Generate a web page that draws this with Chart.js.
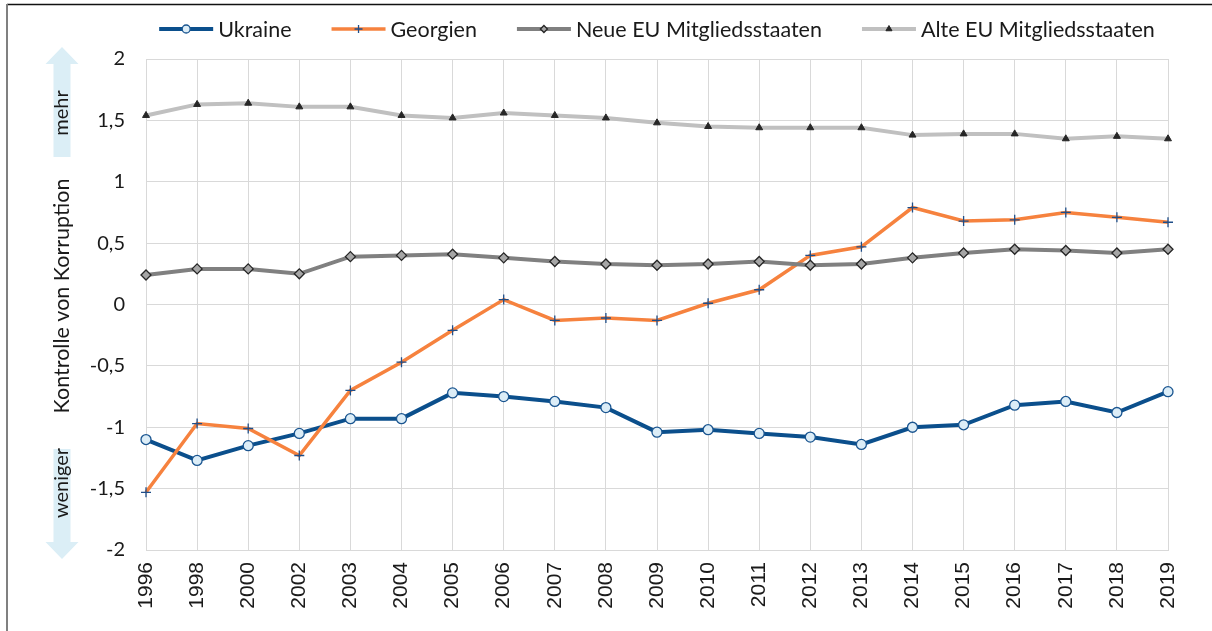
<!DOCTYPE html>
<html>
<head>
<meta charset="utf-8">
<script src="https://cdn.jsdelivr.net/npm/chart.js@4.4.0/dist/chart.umd.min.js"></script>
<style>
  html, body { margin: 0; padding: 0; background: #fff; }
</style>
</head>
<body>
<canvas id="myChart" width="1212" height="631"></canvas>
<script>
// Kontrolle von Korruption, Indexwerte
const years = ['1996', '1998', '2000', '2002', '2003', '2004', '2005', '2006', '2007', '2008', '2009',
  '2010', '2011', '2012', '2013', '2014', '2015', '2016', '2017', '2018', '2019'];
const ukraine = [-1.10, -1.27, -1.15, -1.05, -0.93, -0.93, -0.72, -0.75, -0.79, -0.84, -1.04,
  -1.02, -1.05, -1.08, -1.14, -1.00, -0.98, -0.82, -0.79, -0.88, -0.71];
const georgien = [-1.53, -0.97, -1.01, -1.23, -0.70, -0.47, -0.21, 0.04, -0.13, -0.11, -0.13,
  0.01, 0.12, 0.40, 0.47, 0.79, 0.68, 0.69, 0.75, 0.71, 0.67];
const neueEU = [0.24, 0.29, 0.29, 0.25, 0.39, 0.40, 0.41, 0.38, 0.35, 0.33, 0.32,
  0.33, 0.35, 0.32, 0.33, 0.38, 0.42, 0.45, 0.44, 0.42, 0.45];
const alteEU = [1.54, 1.63, 1.64, 1.61, 1.61, 1.54, 1.52, 1.56, 1.54, 1.52, 1.48,
  1.45, 1.44, 1.44, 1.44, 1.38, 1.39, 1.39, 1.35, 1.37, 1.35];
const yTicks = [2, 1.5, 1, 0.5, 0, -0.5, -1, -1.5, -2];

const textColor = '#1a1a1a';
const gridColor = '#d9d9d9';

// arrows, axis title and frame
const decorPlugin = {
  id: 'decor',
  beforeDraw(chart) {
    const ctx = chart.ctx;
    ctx.save();
    // frame
    ctx.strokeStyle = '#111';
    ctx.lineWidth = 1.5;
    ctx.beginPath();
    ctx.moveTo(7, 4.5);
    ctx.lineTo(1212, 4.5);
    ctx.stroke();
    ctx.strokeStyle = '#808080';
    ctx.lineWidth = 2;
    ctx.beginPath();
    ctx.moveTo(7, 4);
    ctx.lineTo(7, 631);
    ctx.stroke();

    // arrows
    ctx.fillStyle = '#dbeef6';
    ctx.beginPath();
    ctx.moveTo(62, 47);
    ctx.lineTo(78.5, 64);
    ctx.lineTo(70.5, 64);
    ctx.lineTo(70.5, 157);
    ctx.lineTo(53.5, 157);
    ctx.lineTo(53.5, 64);
    ctx.lineTo(45.5, 64);
    ctx.closePath();
    ctx.fill();
    ctx.beginPath();
    ctx.moveTo(62, 559);
    ctx.lineTo(78.5, 542);
    ctx.lineTo(70.5, 542);
    ctx.lineTo(70.5, 449);
    ctx.lineTo(53.5, 449);
    ctx.lineTo(53.5, 542);
    ctx.lineTo(45.5, 542);
    ctx.closePath();
    ctx.fill();

    ctx.fillStyle = textColor;
    ctx.textAlign = 'center';
    ctx.textBaseline = 'middle';
    const vtext = (t, x, y) => {
      ctx.save();
      ctx.translate(x, y);
      ctx.rotate(-Math.PI / 2);
      ctx.fillText(t, 0, 0);
      ctx.restore();
    };
    ctx.font = '20px Lato';
    vtext('mehr', 62, 113);
    vtext('weniger', 62, 483);
    ctx.font = '21.5px Lato';
    vtext('Kontrolle von Korruption', 62, 296);
    ctx.restore();
  }
};

// legend drawn as line + marker, like the original
const legendPlugin = {
  id: 'lineLegend',
  afterDraw(chart) {
    const ctx = chart.ctx;
    const area = chart.chartArea;
    const lineLen = 54, textGap = 5, itemGap = 40;
    ctx.save();
    ctx.font = '21.5px Lato';
    ctx.textBaseline = 'middle';
    const items = chart.data.datasets.map(ds => ({ ds, w: ctx.measureText(ds.label).width }));
    let total = 0;
    items.forEach((it, i) => { total += lineLen + textGap + it.w + (i ? itemGap : 0); });
    let x = (area.left + area.right) / 2 - total / 2;
    const y = 29;
    items.forEach(it => {
      const ds = it.ds;
      ctx.strokeStyle = ds.borderColor;
      ctx.lineWidth = ds.borderWidth;
      ctx.beginPath();
      ctx.moveTo(x, y);
      ctx.lineTo(x + lineLen, y);
      ctx.stroke();
      ctx.fillStyle = ds.pointBackgroundColor;
      ctx.strokeStyle = ds.pointBorderColor;
      ctx.lineWidth = ds.pointBorderWidth;
      Chart.helpers.drawPoint(ctx, {
        pointStyle: ds.pointStyle,
        radius: ds.legendRadius,
        rotation: 0,
        borderWidth: ds.pointBorderWidth
      }, x + lineLen / 2, y);
      ctx.fillStyle = textColor;
      ctx.textAlign = 'left';
      ctx.fillText(ds.label, x + lineLen + textGap, y + 1);
      x += lineLen + textGap + it.w + itemGap;
    });
    ctx.restore();
  }
};

const ctx = document.getElementById('myChart').getContext('2d');
const chart = new Chart(ctx, {
  type: 'line',
  data: {
    labels: years,
    datasets: [{
      label: 'Ukraine',
      data: ukraine,
      borderColor: '#0b4f8c',
      borderWidth: 4,
      pointStyle: 'circle',
      pointRadius: 5,
      legendRadius: 4,
      pointBackgroundColor: '#dcedf7',
      pointBorderColor: '#1a5590',
      pointBorderWidth: 1.3,
      order: 3
    }, {
      label: 'Georgien',
      data: georgien,
      borderColor: '#f6823e',
      borderWidth: 3.5,
      pointStyle: 'cross',
      pointRadius: 5,
      legendRadius: 4,
      pointBackgroundColor: '#1f4e89',
      pointBorderColor: '#1f4e89',
      pointBorderWidth: 1.3,
      order: 2
    }, {
      label: 'Neue EU Mitgliedsstaaten',
      data: neueEU,
      borderColor: '#808080',
      borderWidth: 4,
      pointStyle: 'rectRot',
      pointRadius: 5,
      legendRadius: 3.5,
      pointBackgroundColor: '#a6a6a6',
      pointBorderColor: '#262626',
      pointBorderWidth: 1.3,
      order: 1
    }, {
      label: 'Alte EU Mitgliedsstaaten',
      data: alteEU,
      borderColor: '#c0c0c0',
      borderWidth: 4,
      pointStyle: 'triangle',
      pointRadius: 4,
      legendRadius: 3.5,
      pointBackgroundColor: '#262626',
      pointBorderColor: '#262626',
      pointBorderWidth: 1,
      order: 0
    }]
  },
  options: {
    responsive: false,
    animation: false,
    devicePixelRatio: 1,
    layout: { padding: { top: 59, right: 44, left: 0, bottom: 0 } },
    elements: { line: { tension: 0 } },
    plugins: {
      legend: { display: false },
      tooltip: { enabled: false }
    },
    scales: {
      x: {
        grid: { color: gridColor, lineWidth: 1, drawTicks: false },
        border: { color: gridColor },
        ticks: {
          color: textColor,
          font: { family: 'Liberation Sans', size: 21 },
          minRotation: 90,
          maxRotation: 90,
          padding: 12,
          autoSkip: false
        },
        afterFit(scale) { scale.height = 81; }
      },
      y: {
        min: -2,
        max: 2,
        afterBuildTicks(scale) { scale.ticks = yTicks.map(v => ({ value: v })); },
        grid: { color: gridColor, lineWidth: 1, drawTicks: false },
        border: { color: gridColor },
        ticks: {
          color: textColor,
          font: { family: 'Lato', size: 20 },
          padding: 21,
          callback: v => String(v).replace('.', ',')
        },
        afterFit(scale) { scale.width = 146; }
      }
    }
  },
  plugins: [decorPlugin, legendPlugin]
});
</script>
</body>
</html>
